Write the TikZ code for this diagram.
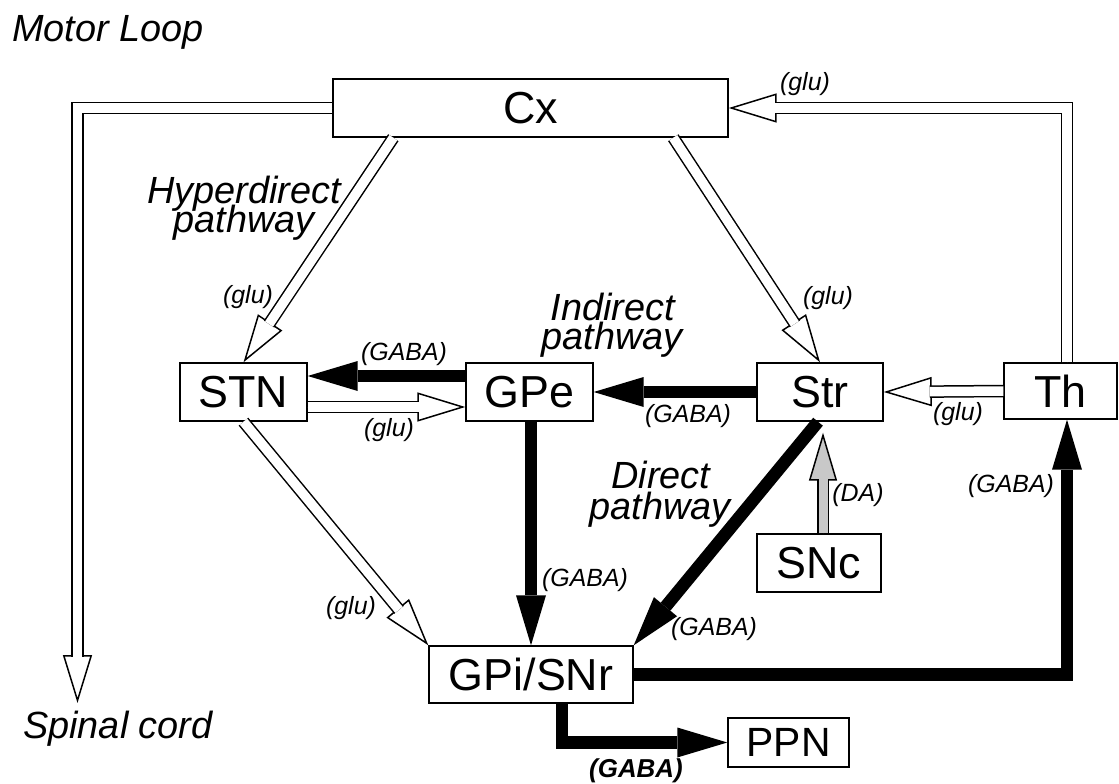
\documentclass[tikz,border=0pt]{standalone}
\usepackage{fontspec}
\setmainfont{Liberation Sans}
\usetikzlibrary{arrows.meta,calc}
\definecolor{dagray}{RGB}{200,200,200}
\begin{document}
\begin{tikzpicture}[x=1bp,y=-1bp,
  box/.style={draw=black, line width=1.4bp, rectangle, inner sep=0pt, font=\fontsize{45}{54}\selectfont},
  sm/.style={font=\fontsize{25}{30}\selectfont\itshape, inner sep=0pt},
  smb/.style={font=\fontsize{26}{30}\selectfont\bfseries\itshape, inner sep=0pt},
  big/.style={font=\fontsize{38}{30}\selectfont\itshape, inner sep=0pt, anchor=base},
  thickarrow/.style={draw=black, line width=12.5bp, line join=miter, -{Triangle[length=50bp,width=30bp,line width=0pt]}},
  holline/.style={draw=black, line width=1.5bp, double=white, double distance=9.5bp, line join=miter, shorten >=46bp},
  holtip/.style={draw=white, line width=0.1bp, -{Triangle[length=48bp,width=29bp,line width=1.5bp,color=black,fill=white]}},
  grayline/.style={draw=black, line width=1.5bp, double=dagray, double distance=9bp, shorten >=46bp},
  graytip/.style={draw=dagray, line width=0.1bp, -{Triangle[length=48bp,width=28bp,line width=1.5bp,color=black,fill=dagray]}}
]
\useasboundingbox (0,0) rectangle (1119,784);

% nodes
\node[box, minimum width=395bp, minimum height=58bp] (Cx) at (530.5,108) {Cx};
\node[box, minimum width=127bp, minimum height=58bp] (STN) at (243.5,392) {STN};
\node[box, minimum width=127bp, minimum height=58bp] (GPe) at (529.5,392) {GPe};
\node[box, minimum width=126bp, minimum height=58bp] (Str) at (820,392) {Str};
\node[box, minimum width=113bp, minimum height=56bp] (Th) at (1060.5,391) {Th};
\node[box, minimum width=124bp, minimum height=58bp] (SNc) at (819,563) {SNc};
\node[box, minimum width=204bp, minimum height=57bp] (GPi) at (531,674.5) {GPi/SNr};
\node[box, minimum width=121bp, minimum height=49bp, font=\fontsize{41}{48}\selectfont] (PPN) at (788.5,742.5) {PPN};

\coordinate (spinal) at (77.5,703);
\coordinate (strin) at ($(Str.south)+(3,11)$);

% hollow (glutamatergic) connectors
\draw[holtip] (Cx.west) -| (spinal);
\draw[holline] (Cx.west) -| (spinal);
\draw[holtip] ($(Th.north)+(6.5,0)$) |- (Cx.east);
\draw[holline] ($(Th.north)+(6.5,0)$) |- (Cx.east);
\draw[holtip] ($(Cx.south west)+(61,0)$) -- (STN.north);
\draw[holline] ($(Cx.south west)+(61,0)$) -- (STN.north);
\draw[holtip] ($(Cx.south west)+(341,0)$) -- (Str.north);
\draw[holline] ($(Cx.south west)+(341,0)$) -- (Str.north);
\draw[holtip] ($(STN.east)+(0,15)$) -- ($(GPe.west)+(0,15)$);
\draw[holline] ($(STN.east)+(0,15)$) -- ($(GPe.west)+(0,15)$);
\draw[holtip] (Th.west) -- (Str.east);
\draw[holline] (Th.west) -- (Str.east);
\draw[holtip] (STN.south) -- (GPi.north west);
\draw[holline] (STN.south) -- (GPi.north west);

% dopaminergic
\draw[graytip] ($(SNc.north)+(4,0)$) -- (strin);
\draw[grayline] ($(SNc.north)+(4,0)$) -- (strin);

% GABAergic connectors
\draw[thickarrow] ($(GPe.west)+(0,-16)$) -- ($(STN.east)+(0,-16)$);
\draw[thickarrow] (Str.west) -- (GPe.east);
\draw[thickarrow] (GPe.south -| GPi.north) -- (GPi.north);
\draw[thickarrow] ($(Str.south)+(-2,0)$) -- (GPi.north east);
\draw[thickarrow] (GPi.east) -| ($(Th.south)+(6.5,0)$);
\draw[thickarrow] ($(GPi.south)+(31,0)$) |- (PPN.west);

% labels
\node[big, anchor=base west] (title) at (12,42) {Motor Loop};
\node[big, anchor=base west] (spinaltxt) at (23,738) {Spinal cord};
\node[big] (hyper1) at (244,203) {Hyperdirect};
\node[big] (hyper2) at (244,232) {pathway};
\node[big] (ind1) at (613,320) {Indirect};
\node[big] (ind2) at (612,349) {pathway};
\node[big] (dir1) at (661,488) {Direct};
\node[big] (dir2) at (660,519) {pathway};

\node[sm] (l1) at (805,84) {(glu)};
\node[sm] (l2) at (248,297) {(glu)};
\node[sm] (l3) at (828,298) {(glu)};
\node[sm] (l4) at (404,354) {(GABA)};
\node[sm] (l5) at (389,430) {(glu)};
\node[sm] (l6) at (688,416) {(GABA)};
\node[sm] (l7) at (958,414) {(glu)};
\node[sm] (l8) at (858,495) {(DA)};
\node[sm] (l9) at (1011,486) {(GABA)};
\node[sm] (l10) at (585,580) {(GABA)};
\node[sm] (l11) at (351,608) {(glu)};
\node[sm] (l12) at (714,629) {(GABA)};
\node[smb] (l13) at (636,771) {(GABA)};
\end{tikzpicture}
\end{document}
